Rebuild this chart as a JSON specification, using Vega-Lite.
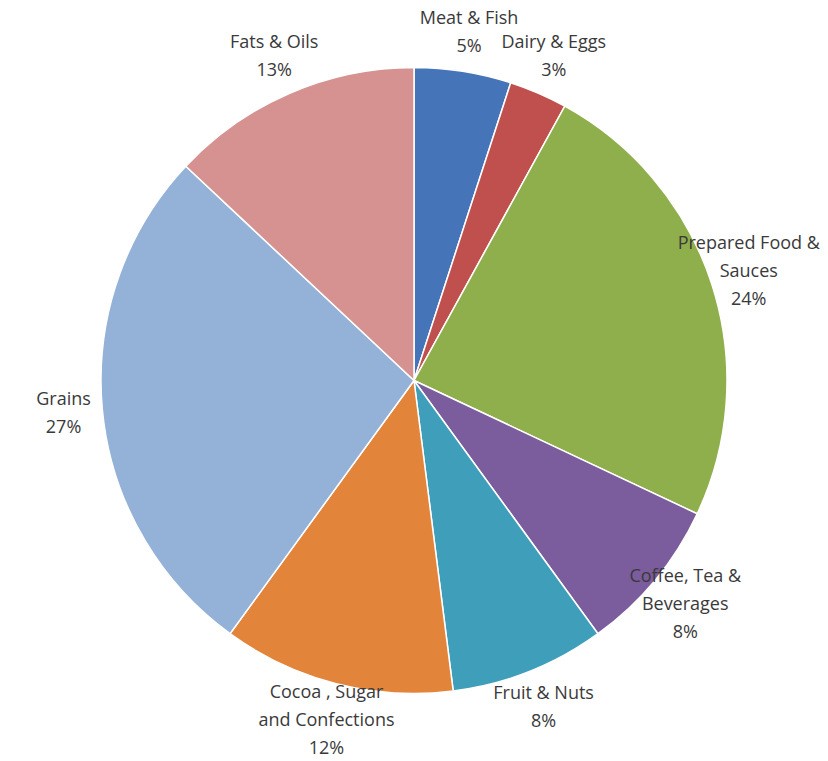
{
  "$schema": "https://vega.github.io/schema/vega-lite/v6.json",
  "width": 828,
  "height": 761,
  "autosize": {"type": "none"},
  "padding": 0,
  "background": "white",
  "config": {"view": {"stroke": null}},
  "data": {
    "values": [
      {"idx": 1, "category": "Meat & Fish", "share": 5, "label": ["Meat & Fish", "5%"]},
      {"idx": 2, "category": "Dairy & Eggs", "share": 3, "label": ["Dairy & Eggs", "3%"]},
      {"idx": 3, "category": "Prepared Food & Sauces", "share": 24, "label": ["Prepared Food &", "Sauces", "24%"]},
      {"idx": 4, "category": "Coffee, Tea & Beverages", "share": 8, "label": ["Coffee, Tea &", "Beverages", "8%"]},
      {"idx": 5, "category": "Fruit & Nuts", "share": 8, "label": ["Fruit & Nuts", "8%"]},
      {"idx": 6, "category": "Cocoa , Sugar and Confections", "share": 12, "label": ["Cocoa , Sugar", "and Confections", "12%"]},
      {"idx": 7, "category": "Grains", "share": 27, "label": ["Grains", "27%"]},
      {"idx": 8, "category": "Fats & Oils", "share": 13, "label": ["Fats & Oils", "13%"]}
    ]
  },
  "encoding": {
    "theta": {"field": "share", "type": "quantitative", "stack": true},
    "order": {"field": "idx", "type": "quantitative"}
  },
  "layer": [
    {
      "mark": {"type": "arc", "radius": 313, "stroke": "white", "strokeWidth": 1.5},
      "encoding": {
        "color": {
          "field": "category",
          "type": "nominal",
          "legend": null,
          "scale": {
            "domain": ["Meat & Fish", "Dairy & Eggs", "Prepared Food & Sauces", "Coffee, Tea & Beverages", "Fruit & Nuts", "Cocoa , Sugar and Confections", "Grains", "Fats & Oils"],
            "range": ["#4575B8", "#C0504D", "#8FAE4C", "#7B5C9C", "#3F9FBA", "#E3843B", "#94B1D8", "#D59291"]
          }
        }
      }
    },
    {
      "mark": {"type": "text", "radius": 352, "font": "Open Sans", "fontSize": 18, "lineHeight": 28, "color": "#3a3a3a", "align": "center", "baseline": "middle", "dy": {"expr": "-(length(datum.label) - 1) * 14"}},
      "encoding": {
        "text": {"field": "label", "type": "nominal"}
      }
    }
  ]
}
